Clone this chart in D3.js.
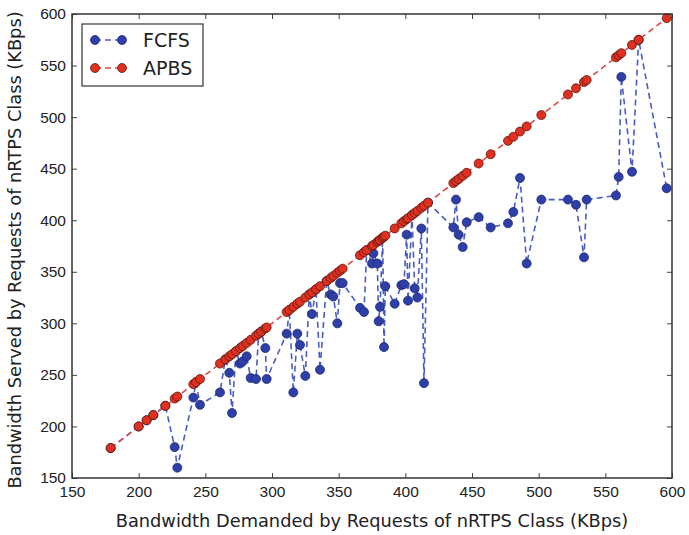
<!DOCTYPE html>
<html>
<head>
<meta charset="utf-8">
<script src="https://cdn.jsdelivr.net/npm/d3@7"></script>
<style>
  body { margin: 0; background: #fff; }
  svg { font-family: "DejaVu Sans", sans-serif; }
</style>
</head>
<body>
<div id="chart"></div>
<script>
// demanded bandwidth (KBps), one entry per request
const demanded = [179, 200, 206, 211, 220, 227, 229, 241, 243, 246, 261, 265, 268, 270, 273, 276, 278, 281, 284, 288,
  290, 292, 295, 296, 311, 313, 316, 319, 321, 325, 328, 330, 333, 336, 341, 344, 346, 349, 351, 353,
  366, 369, 371, 375, 376, 379, 380, 381, 383, 384, 385, 392, 397, 399, 401, 402, 405, 407, 409, 412,
  414, 417, 436, 438, 440, 443, 446, 455, 464, 477, 481, 486, 491, 502, 522, 528, 534, 536, 558, 560,
  562, 570, 575, 596];
// served bandwidth under FCFS
const fcfsServed = [179, 200, 206, 211, 220, 180, 160, 228, 243, 221, 233, 265, 252, 213, 273, 261, 263, 268, 247, 246,
  290, 292, 276, 246, 290, 313, 233, 290, 279, 249, 328, 309, 333, 255, 341, 328, 326, 300, 339, 339,
  315, 311, 371, 358, 368, 358, 302, 316, 383, 277, 336, 319, 337, 338, 386, 322, 405, 334, 325, 392,
  242, 417, 393, 420, 386, 374, 398, 403, 393, 397, 408, 441, 358, 420, 420, 415, 364, 420, 424, 442,
  539, 447, 575, 431];
// served bandwidth under APBS (all demand served)
const apbsServed = demanded.slice();

const xTicks = [150, 200, 250, 300, 350, 400, 450, 500, 550, 600];
const yTicks = [150, 200, 250, 300, 350, 400, 450, 500, 550, 600];

const width = 689, height = 535;
const margin = {top: 14, right: 17, bottom: 57, left: 72};
const plotW = width - margin.left - margin.right;
const plotH = height - margin.top - margin.bottom;

const svg = d3.select("#chart").append("svg")
  .attr("width", width)
  .attr("height", height);

const g = svg.append("g").attr("transform", `translate(${margin.left},${margin.top})`);

const x = d3.scaleLinear().domain([150, 600]).range([0, plotW]);
const y = d3.scaleLinear().domain([150, 600]).range([plotH, 0]);

// ticks inside on all four sides (classic matplotlib look)
g.append("g").attr("transform", `translate(0,${plotH})`)
  .call(d3.axisBottom(x).tickValues(xTicks).tickSizeInner(-5).tickSizeOuter(0).tickPadding(8))
  .call(a => a.select(".domain").remove())
  .call(a => a.selectAll("text").attr("font-size", 15.5).attr("fill", "#222"));
g.append("g")
  .call(d3.axisTop(x).tickValues(xTicks).tickSizeInner(-5).tickSizeOuter(0).tickFormat(""))
  .call(a => a.select(".domain").remove());
g.append("g")
  .call(d3.axisLeft(y).tickValues(yTicks).tickSizeInner(-5).tickSizeOuter(0).tickPadding(6))
  .call(a => a.select(".domain").remove())
  .call(a => a.selectAll("text").attr("font-size", 15.5).attr("fill", "#222"));
g.append("g").attr("transform", `translate(${plotW},0)`)
  .call(d3.axisRight(y).tickValues(yTicks).tickSizeInner(-5).tickSizeOuter(0).tickFormat(""))
  .call(a => a.select(".domain").remove());
g.selectAll(".tick line").attr("stroke", "#444");

const series = [
  {name: "FCFS", vals: fcfsServed, line: "#4a5cc4", fill: "#2f3fa8"},
  {name: "APBS", vals: apbsServed, line: "#e04848", fill: "#e0301f"}
];

const lineGen = d3.line().x(d => x(d[0])).y(d => y(d[1]));

series.forEach(s => {
  const pts = demanded.map((d, i) => [d, s.vals[i]]);
  g.append("path")
    .datum(pts)
    .attr("d", lineGen)
    .attr("fill", "none")
    .attr("stroke", s.line)
    .attr("stroke-width", 1.6)
    .attr("stroke-dasharray", "6,4");
  g.selectAll(null)
    .data(pts)
    .enter()
    .append("circle")
    .attr("cx", d => x(d[0]))
    .attr("cy", d => y(d[1]))
    .attr("r", 4.5)
    .attr("fill", s.fill)
    .attr("stroke", s.name == "APBS" ? "#5a1a10" : "#1e2a78")
    .attr("stroke-width", 0.8);
});

// frame
g.append("rect")
  .attr("width", plotW)
  .attr("height", plotH)
  .attr("fill", "none")
  .attr("stroke", "#333")
  .attr("stroke-width", 1.5);

// legend
const leg = g.append("g").attr("transform", "translate(10,10)");
leg.append("rect")
  .attr("width", 121)
  .attr("height", 62)
  .attr("fill", "#fff")
  .attr("stroke", "#333")
  .attr("stroke-width", 1.2);
series.forEach((s, i) => {
  const ly = 16 + i * 28;
  leg.append("line")
    .attr("x1", 13).attr("x2", 40).attr("y1", ly).attr("y2", ly)
    .attr("stroke", s.line).attr("stroke-width", 1.6).attr("stroke-dasharray", "6,4");
  [13, 40].forEach(cx => {
    leg.append("circle").attr("cx", cx).attr("cy", ly).attr("r", 4.5)
      .attr("fill", s.fill)
      .attr("stroke", s.name == "APBS" ? "#5a1a10" : "#1e2a78")
      .attr("stroke-width", 0.8);
  });
  leg.append("text")
    .attr("x", 61).attr("y", ly)
    .attr("dy", "0.35em")
    .attr("font-size", 19)
    .attr("fill", "#222")
    .text(s.name);
});

// axis labels
svg.append("text")
  .attr("x", margin.left + plotW / 2)
  .attr("y", height - 8)
  .attr("text-anchor", "middle")
  .attr("font-size", 17.8)
  .attr("fill", "#222")
  .text("Bandwidth Demanded by Requests of nRTPS Class (KBps)");

svg.append("text")
  .attr("transform", `translate(21,${margin.top + plotH / 2 + 4}) rotate(-90)`)
  .attr("text-anchor", "middle")
  .attr("font-size", 17.8)
  .attr("fill", "#222")
  .text("Bandwidth Served by Requests of nRTPS Class (KBps)");
</script>
</body>
</html>
